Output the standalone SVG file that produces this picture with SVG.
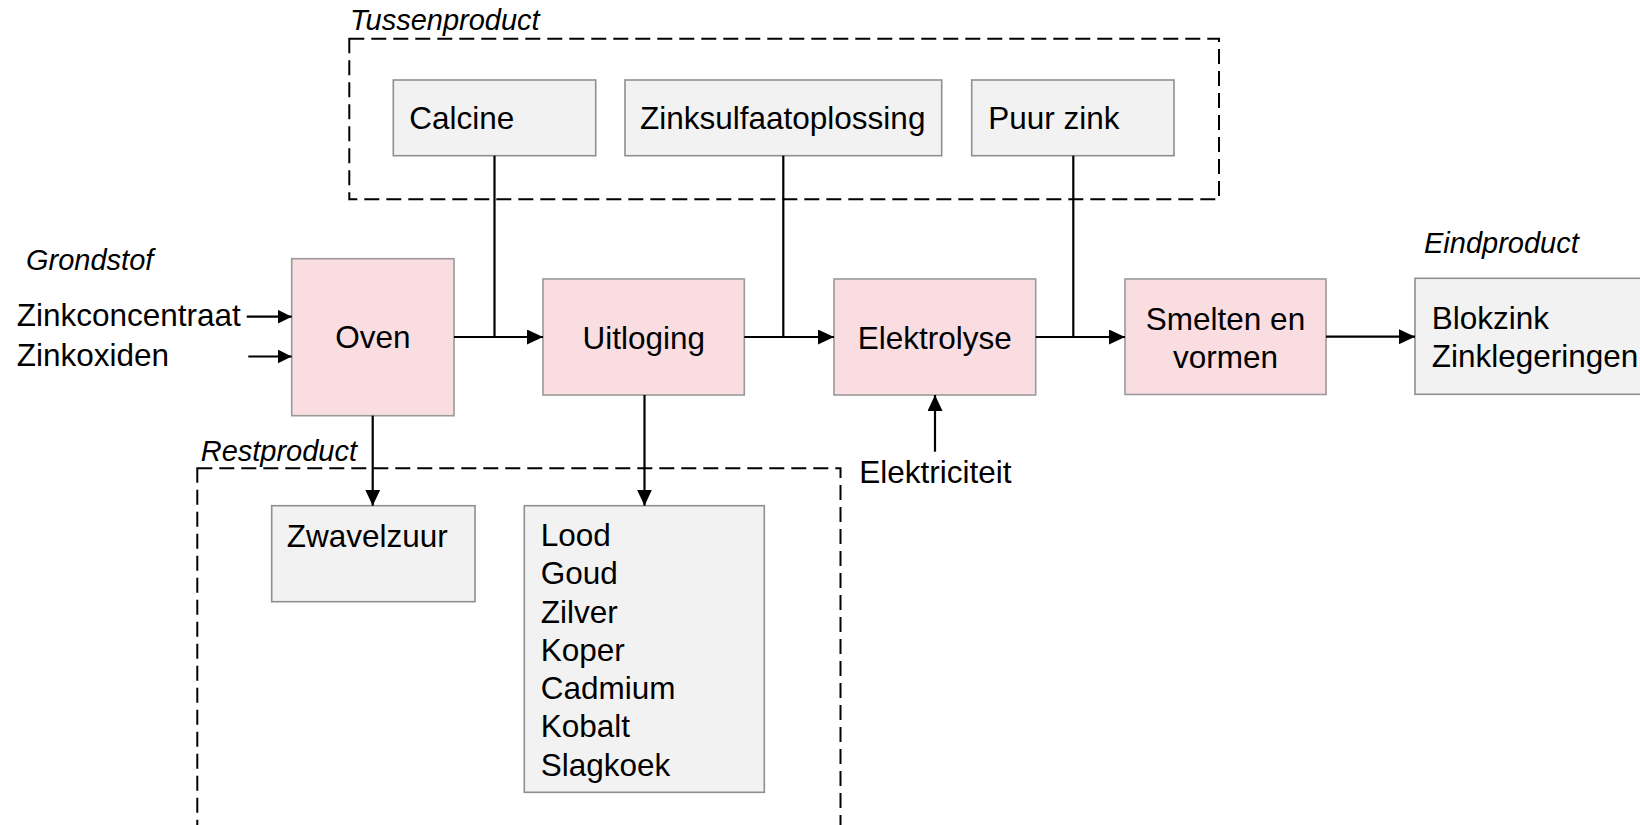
<svg xmlns="http://www.w3.org/2000/svg" width="1640" height="825" viewBox="0 0 1640 825">
<style>
  .proc { fill: #f9dde1; stroke: #9a9a9a; stroke-width: 1.6; }
  .prod { fill: #f2f2f2; stroke: #8f8f8f; stroke-width: 1.6; }
  .group { fill: none; stroke: #000; stroke-width: 2; stroke-dasharray: 15 7; }
  .t { font-family: "Liberation Sans", Arimo, Arial, sans-serif; font-size: 31.5px; fill: #000; }
  .c { text-anchor: middle; }
  .it { font-family: "Liberation Sans", Arimo, Arial, sans-serif; font-size: 29px; font-style: italic; fill: #000; }
  .conn { fill: none; stroke: #000; stroke-width: 2.2; }
</style>
<defs>
  <marker id="arr" markerUnits="userSpaceOnUse" markerWidth="16" markerHeight="15" viewBox="0 0 16 15" refX="16" refY="7.5" orient="auto">
    <path d="M0,0 L16,7.5 L0,15 z" fill="#000"/>
  </marker>
  <marker id="arrs" markerUnits="userSpaceOnUse" markerWidth="14" markerHeight="14" viewBox="0 0 14 14" refX="14" refY="7" orient="auto">
    <path d="M0,0 L14,7 L0,14 z" fill="#000"/>
  </marker>
</defs>

<g id="group-tussenproduct">
  <rect class="group" x="349.3" y="38.7" width="869.7" height="160.6"/>
  <text class="it" x="350" y="30">Tussenproduct</text>
</g>
<g id="group-restproduct">
  <rect class="group" x="197.3" y="468.3" width="643.2" height="420"/>
  <text class="it" x="200.7" y="461">Restproduct</text>
</g>

<g id="label-grondstof">
  <text class="it" x="26" y="270">Grondstof</text>
  <text class="t" x="16.7" y="326">Zinkconcentraat</text>
  <text class="t" x="16.7" y="366">Zinkoxiden</text>
</g>
<g id="label-eindproduct">
  <text class="it" x="1424" y="253.3">Eindproduct</text>
</g>
<g id="label-elektriciteit">
  <text class="t" x="859.3" y="482.7">Elektriciteit</text>
</g>

<g id="node-oven">
  <rect class="proc" x="291.7" y="258.7" width="162.3" height="157"/>
  <text class="t c" x="372.8" y="348.3">Oven</text>
</g>
<g id="node-uitloging">
  <rect class="proc" x="543" y="279" width="201.3" height="116"/>
  <text class="t c" x="643.7" y="349.3">Uitloging</text>
</g>
<g id="node-elektrolyse">
  <rect class="proc" x="834" y="279" width="201.7" height="116"/>
  <text class="t c" x="934.8" y="349.3">Elektrolyse</text>
</g>
<g id="node-smelten">
  <rect class="proc" x="1125" y="279" width="201" height="115.5"/>
  <text class="t c" x="1225.5" y="330">Smelten en</text>
  <text class="t c" x="1225.5" y="368.3">vormen</text>
</g>

<g id="node-calcine">
  <rect class="prod" x="393.3" y="80" width="202.4" height="75.7"/>
  <text class="t" x="409.3" y="129.3">Calcine</text>
</g>
<g id="node-zinksulfaat">
  <rect class="prod" x="625" y="80" width="316.7" height="75.7"/>
  <text class="t" x="640" y="129.3">Zinksulfaatoplossing</text>
</g>
<g id="node-puurzink">
  <rect class="prod" x="971.7" y="80" width="202.3" height="75.7"/>
  <text class="t" x="988.3" y="129.3">Puur zink</text>
</g>
<g id="node-eindproduct">
  <rect class="prod" x="1415" y="278.3" width="240" height="116"/>
  <text class="t" x="1431.7" y="329.3">Blokzink</text>
  <text class="t" x="1431.7" y="367.3">Zinklegeringen</text>
</g>
<g id="node-zwavelzuur">
  <rect class="prod" x="271.7" y="505.7" width="203.3" height="96"/>
  <text class="t" x="286.7" y="546.7">Zwavelzuur</text>
</g>
<g id="node-metalen">
  <rect class="prod" x="524.3" y="505.7" width="240" height="286.6"/>
  <text class="t" x="540.7" y="546.3">Lood</text>
  <text class="t" x="540.7" y="584.3">Goud</text>
  <text class="t" x="540.7" y="622.7">Zilver</text>
  <text class="t" x="540.7" y="660.5">Koper</text>
  <text class="t" x="540.7" y="699">Cadmium</text>
  <text class="t" x="540.7" y="737.3">Kobalt</text>
  <text class="t" x="540.7" y="775.7">Slagkoek</text>
</g>

<g id="connectors">
  <path class="conn" d="M246.7,316.7 H291.7" marker-end="url(#arrs)"/>
  <path class="conn" d="M248.3,356.5 H291.7" marker-end="url(#arrs)"/>
  <path class="conn" d="M454,337 H543" marker-end="url(#arr)"/>
  <path class="conn" d="M494.5,155.7 V337"/>
  <path class="conn" d="M744.3,337 H834" marker-end="url(#arr)"/>
  <path class="conn" d="M783.3,155.7 V337"/>
  <path class="conn" d="M1035.7,337 H1125" marker-end="url(#arr)"/>
  <path class="conn" d="M1073.3,155.7 V337"/>
  <path class="conn" d="M1326,336.7 H1415" marker-end="url(#arr)"/>
  <path class="conn" d="M372.7,415.7 V505.7" marker-end="url(#arr)"/>
  <path class="conn" d="M644.5,395 V505.7" marker-end="url(#arr)"/>
  <path class="conn" d="M935,451.7 V395" marker-end="url(#arr)"/>
</g>
</svg>
